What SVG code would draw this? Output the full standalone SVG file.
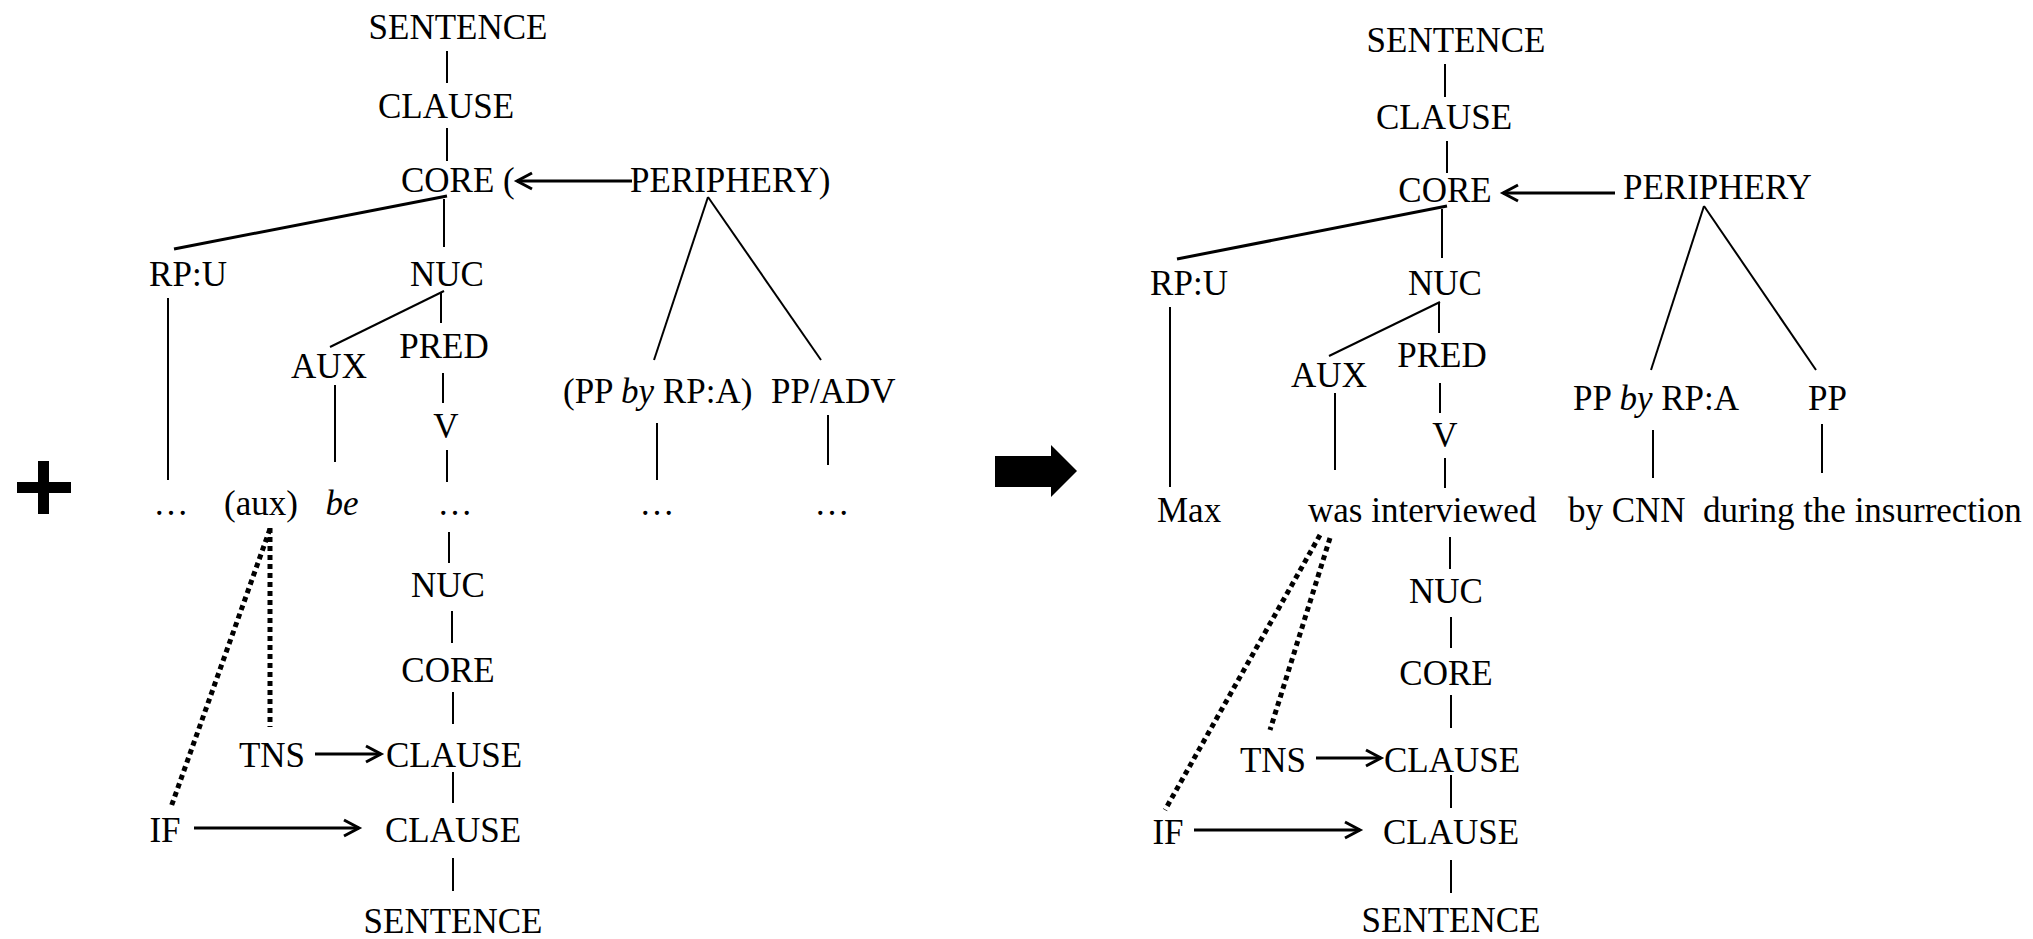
<svg xmlns="http://www.w3.org/2000/svg" width="2033" height="939" viewBox="0 0 2033 939">
  <defs>
    <style>
      text { font-family: "Liberation Serif", "Times New Roman", serif; font-size: 35px; fill: #000; }
      .m { text-anchor: middle; }
      .it { font-style: italic; }
      .ln { stroke: #000; stroke-width: 2; fill: none; }
      .thk { stroke: #000; stroke-width: 3; fill: none; }
      .arr { stroke: #000; stroke-width: 3; fill: none; marker-end: url(#chev); }
      .dot { stroke: #000; stroke-width: 5; fill: none; stroke-dasharray: 5 4; }
    </style>
    <marker id="chev" markerUnits="userSpaceOnUse" markerWidth="24" markerHeight="24" viewBox="-20 -12 24 24" refX="0" refY="0" orient="auto" overflow="visible">
      <path d="M-15,-8 L0,0 L-15,8" fill="none" stroke="#000" stroke-width="3"/>
    </marker>
  </defs>

  <!-- plus sign -->
  <g id="plus">
    <rect x="38" y="461" width="11" height="53" fill="#000"/>
    <rect x="17" y="482" width="54" height="11" fill="#000"/>
  </g>

  <!-- block arrow between the two trees -->
  <g id="block-arrow">
    <polygon points="995,456 1051,456 1051,445 1077,471 1051,497 1051,487 995,487" fill="#000"/>
  </g>

  <!-- connectors -->
  <g id="connectors">
    <!-- left tree -->
    <line class="ln" x1="447" y1="51" x2="447" y2="83"/>
    <line class="ln" x1="447" y1="128" x2="447" y2="161"/>
    <line class="thk" x1="447" y1="196" x2="174" y2="249"/>
    <line class="ln" x1="444" y1="199" x2="444" y2="247"/>
    <line class="ln" x1="168" y1="298" x2="168" y2="480"/>
    <line class="ln" x1="444" y1="291" x2="330" y2="347"/>
    <line class="ln" x1="441" y1="293" x2="441" y2="323"/>
    <line class="ln" x1="335" y1="385" x2="335" y2="462"/>
    <line class="ln" x1="443" y1="373" x2="443" y2="403"/>
    <line class="ln" x1="447" y1="450" x2="447" y2="482"/>
    <line class="ln" x1="708" y1="197" x2="654" y2="360"/>
    <line class="ln" x1="708" y1="197" x2="821" y2="360"/>
    <line class="ln" x1="657" y1="423" x2="657" y2="480"/>
    <line class="ln" x1="828" y1="415" x2="828" y2="465"/>
    <line class="ln" x1="449" y1="532" x2="449" y2="563"/>
    <line class="ln" x1="452" y1="611" x2="452" y2="643"/>
    <line class="ln" x1="453" y1="692" x2="453" y2="724"/>
    <line class="ln" x1="453" y1="772" x2="453" y2="803"/>
    <line class="ln" x1="453" y1="858" x2="453" y2="891"/>
    <line class="arr" x1="632" y1="181" x2="517" y2="181"/>
    <line class="arr" x1="315" y1="754" x2="381" y2="754"/>
    <line class="arr" x1="194" y1="828" x2="359" y2="828"/>
    <line class="dot" x1="270" y1="528" x2="270" y2="727"/>
    <line class="dot" x1="270" y1="529" x2="171" y2="807"/>

    <!-- right tree -->
    <line class="ln" x1="1445" y1="64" x2="1445" y2="97"/>
    <line class="ln" x1="1447" y1="141" x2="1447" y2="173"/>
    <line class="thk" x1="1447" y1="206" x2="1177" y2="259"/>
    <line class="ln" x1="1442" y1="209" x2="1442" y2="258"/>
    <line class="ln" x1="1170" y1="307" x2="1170" y2="487"/>
    <line class="ln" x1="1440" y1="302" x2="1329" y2="356"/>
    <line class="ln" x1="1439" y1="303" x2="1439" y2="333"/>
    <line class="ln" x1="1335" y1="393" x2="1335" y2="470"/>
    <line class="ln" x1="1440" y1="383" x2="1440" y2="413"/>
    <line class="ln" x1="1445" y1="458" x2="1445" y2="488"/>
    <line class="ln" x1="1704" y1="206" x2="1651" y2="370"/>
    <line class="ln" x1="1704" y1="206" x2="1816" y2="370"/>
    <line class="ln" x1="1653" y1="430" x2="1653" y2="478"/>
    <line class="ln" x1="1822" y1="424" x2="1822" y2="473"/>
    <line class="ln" x1="1450" y1="537" x2="1450" y2="569"/>
    <line class="ln" x1="1451" y1="617" x2="1451" y2="648"/>
    <line class="ln" x1="1451" y1="695" x2="1451" y2="728"/>
    <line class="ln" x1="1451" y1="775" x2="1451" y2="808"/>
    <line class="ln" x1="1451" y1="860" x2="1451" y2="893"/>
    <line class="arr" x1="1615" y1="193" x2="1503" y2="193"/>
    <line class="arr" x1="1316" y1="758" x2="1381" y2="758"/>
    <line class="arr" x1="1194" y1="830" x2="1360" y2="830"/>
    <line class="dot" x1="1320" y1="535" x2="1165" y2="810"/>
    <line class="dot" x1="1330" y1="538" x2="1270" y2="730"/>
  </g>

  <!-- left tree nodes -->
  <g id="l-sentence-top"><text class="m" x="458" y="39">SENTENCE</text></g>
  <g id="l-clause-top"><text class="m" x="446" y="118">CLAUSE</text></g>
  <g id="l-core-top"><text x="401" y="192">CORE (</text></g>
  <g id="l-periphery"><text x="630" y="192">PERIPHERY)</text></g>
  <g id="l-rpu"><text class="m" x="188" y="286">RP:U</text></g>
  <g id="l-nuc-top"><text class="m" x="447" y="286">NUC</text></g>
  <g id="l-pred"><text class="m" x="444" y="358">PRED</text></g>
  <g id="l-aux"><text class="m" x="329" y="378">AUX</text></g>
  <g id="l-v"><text class="m" x="446" y="438">V</text></g>
  <g id="l-pp-by"><text x="563" y="403">(PP <tspan class="it">by</tspan> RP:A)</text></g>
  <g id="l-pp-adv"><text x="771" y="403">PP/ADV</text></g>
  <g id="l-words">
    <text class="m" x="171" y="515">…</text>
    <text class="m" x="261" y="515">(aux)</text>
    <text class="m it" x="342" y="515">be</text>
    <text class="m" x="455" y="515">…</text>
    <text class="m" x="657" y="515">…</text>
    <text class="m" x="832" y="515">…</text>
  </g>
  <g id="l-nuc-bot"><text class="m" x="448" y="597">NUC</text></g>
  <g id="l-core-bot"><text class="m" x="448" y="682">CORE</text></g>
  <g id="l-tns"><text class="m" x="272" y="767">TNS</text></g>
  <g id="l-clause-tns"><text class="m" x="454" y="767">CLAUSE</text></g>
  <g id="l-if"><text class="m" x="165" y="842">IF</text></g>
  <g id="l-clause-if"><text class="m" x="453" y="842">CLAUSE</text></g>
  <g id="l-sentence-bot"><text class="m" x="453" y="933">SENTENCE</text></g>

  <!-- right tree nodes -->
  <g id="r-sentence-top"><text class="m" x="1456" y="52">SENTENCE</text></g>
  <g id="r-clause-top"><text class="m" x="1444" y="129">CLAUSE</text></g>
  <g id="r-core-top"><text class="m" x="1445" y="202">CORE</text></g>
  <g id="r-periphery"><text x="1623" y="199">PERIPHERY</text></g>
  <g id="r-rpu"><text class="m" x="1189" y="295">RP:U</text></g>
  <g id="r-nuc-top"><text class="m" x="1445" y="295">NUC</text></g>
  <g id="r-pred"><text class="m" x="1442" y="367">PRED</text></g>
  <g id="r-aux"><text class="m" x="1329" y="387">AUX</text></g>
  <g id="r-v"><text class="m" x="1445" y="447">V</text></g>
  <g id="r-pp-by"><text x="1573" y="410">PP <tspan class="it">by</tspan> RP:A</text></g>
  <g id="r-pp"><text x="1808" y="410">PP</text></g>
  <g id="r-words">
    <text x="1157" y="522">Max</text>
    <text x="1308" y="522">was interviewed</text>
    <text x="1568" y="522">by CNN</text>
    <text x="1703" y="522">during the insurrection</text>
  </g>
  <g id="r-nuc-bot"><text class="m" x="1446" y="603">NUC</text></g>
  <g id="r-core-bot"><text class="m" x="1446" y="685">CORE</text></g>
  <g id="r-tns"><text class="m" x="1273" y="772">TNS</text></g>
  <g id="r-clause-tns"><text class="m" x="1452" y="772">CLAUSE</text></g>
  <g id="r-if"><text class="m" x="1168" y="844">IF</text></g>
  <g id="r-clause-if"><text class="m" x="1451" y="844">CLAUSE</text></g>
  <g id="r-sentence-bot"><text class="m" x="1451" y="932">SENTENCE</text></g>
</svg>
